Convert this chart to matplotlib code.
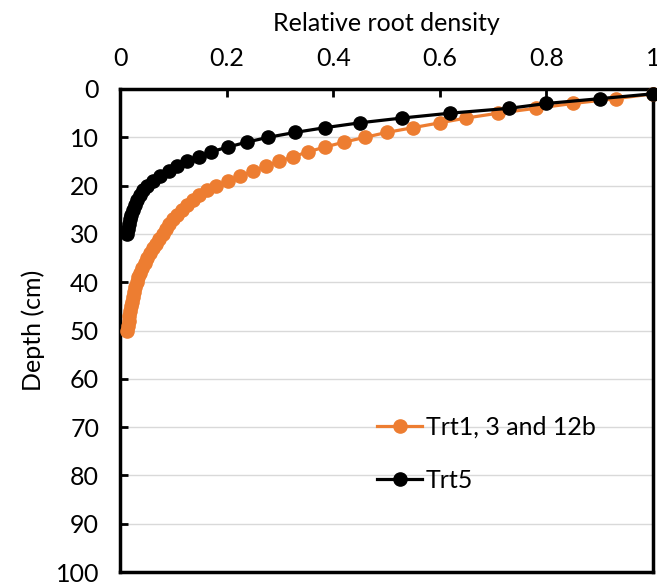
import numpy as np
import matplotlib.pyplot as plt

plt.rcParams['font.family'] = ['Lato', 'DejaVu Sans']

# profondeurs (cm) et densite relative
depth_trt1 = list(range(1, 51))
dens_trt1 = [1.0, 0.93, 0.85, 0.78, 0.71, 0.65, 0.60, 0.55, 0.50, 0.46,
             0.42, 0.385, 0.353, 0.325, 0.298, 0.273, 0.25, 0.226, 0.203, 0.181,
             0.163, 0.149, 0.137, 0.126, 0.116, 0.107, 0.099, 0.092, 0.086, 0.080,
             0.073, 0.067, 0.061, 0.056, 0.051, 0.046, 0.042, 0.038, 0.034, 0.031,
             0.028, 0.026, 0.024, 0.022, 0.020, 0.019, 0.017, 0.016, 0.015, 0.014]

depth_trt5 = list(range(1, 31))
dens_trt5 = [1.0, 0.90, 0.80, 0.73, 0.62, 0.53, 0.45, 0.385, 0.328, 0.278,
             0.238, 0.203, 0.171, 0.148, 0.126, 0.107, 0.091, 0.075, 0.062, 0.050,
             0.043, 0.037, 0.032, 0.028, 0.024, 0.021, 0.019, 0.017, 0.015, 0.013]

labels = ['Trt1, 3 and 12b', 'Trt5']
orange = '#ED7D31'

fig = plt.figure(figsize=(6.57, 5.82), dpi=100)
ax = fig.add_axes([120/657, 1 - 572/582, 533/657, 483/582])

ax.plot(dens_trt1, depth_trt1, '-o', color=orange, lw=2.3, ms=9.5, label=labels[0], clip_on=False, zorder=3)
ax.plot(dens_trt5, depth_trt5, '-o', color='black', lw=2.3, ms=9.5, label=labels[1], clip_on=False, zorder=4)

ax.set_xlim(0, 1)
ax.set_ylim(100, 0)
ax.set_xticks(np.arange(0, 1.01, 0.2))
ax.set_xticklabels(['0', '0.2', '0.4', '0.6', '0.8', '1'])
ax.set_yticks(np.arange(0, 101, 10))

ax.xaxis.tick_top()
ax.xaxis.set_label_position('top')
ax.tick_params(axis='x', direction='in', length=6, width=2, pad=14, labelsize=18, top=True, bottom=False)
ax.tick_params(axis='y', direction='in', length=6, width=2, pad=15, labelsize=18, right=False)

ax.set_xlabel('Relative root density', fontsize=18, labelpad=11)
ax.set_ylabel('Depth (cm)', fontsize=18, labelpad=8)

ax.yaxis.grid(True, color='#d9d9d9', lw=1)
ax.set_axisbelow(True)
for s in ax.spines.values():
    s.set_linewidth(2.5)
    s.set_color('black')

ax.legend(loc='upper left', bbox_to_anchor=(0.44, 0.37), frameon=False, fontsize=18,
          handlelength=1.8, handletextpad=0.15, labelspacing=1.2, markerscale=1.0)

fig.savefig('out.png', dpi=100)
